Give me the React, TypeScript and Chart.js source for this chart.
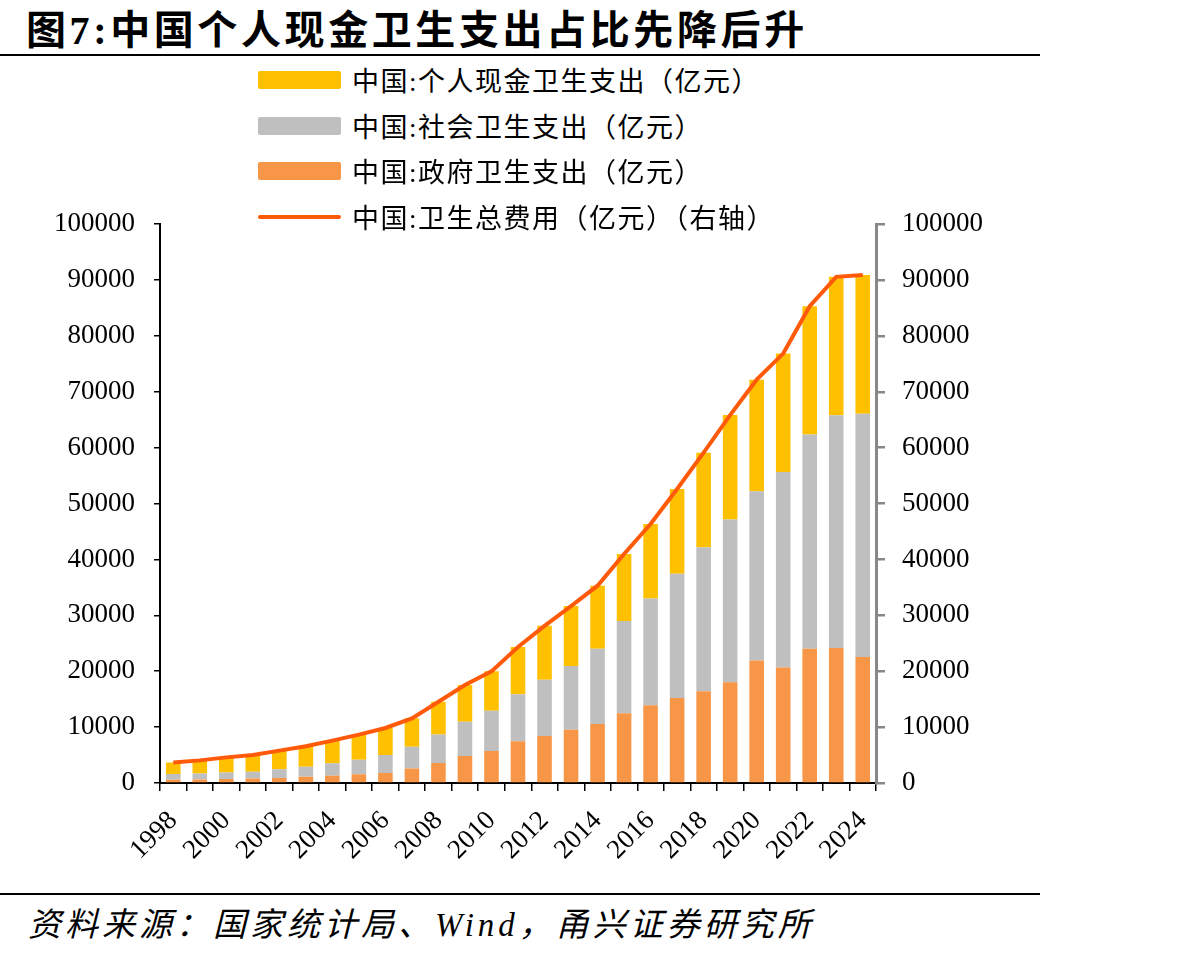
import React, { useEffect, useRef } from "react";
import { Chart, registerables } from "chart.js";

Chart.register(...registerables);

// 年份
const years = [
  "1998", "1999", "2000", "2001", "2002", "2003", "2004", "2005", "2006", "2007",
  "2008", "2009", "2010", "2011", "2012", "2013", "2014", "2015", "2016", "2017",
  "2018", "2019", "2020", "2021", "2022", "2023", "2024",
];

// 政府卫生支出（亿元）
const governmentSpending = [
  587.2, 641.0, 709.5, 800.6, 908.5, 1116.9, 1293.6, 1552.5, 1778.9, 2581.6,
  3593.9, 4816.3, 5732.5, 7464.2, 8432.0, 9545.8, 10579.2, 12475.3, 13910.3, 15205.9,
  16399.1, 18017.0, 21941.9, 20676.1, 24040.9, 24147.9, 22570.0,
];

// 社会卫生支出（亿元）
const socialSpending = [
  1006.0, 1064.6, 1171.9, 1211.4, 1539.4, 1788.5, 2225.4, 2586.4, 3210.9, 3893.7,
  5065.6, 6154.5, 7196.6, 8416.5, 10030.7, 11393.8, 13437.8, 16506.7, 19096.7, 22258.8,
  25810.8, 29150.6, 30273.7, 34963.3, 38345.7, 41676.8, 43530.0,
];

// 个人现金卫生支出（亿元）
const personalSpending = [
  2085.5, 2341.9, 2705.2, 3013.9, 3342.1, 3678.7, 4071.4, 4521.0, 4853.6, 5098.7,
  5875.9, 6571.2, 7051.3, 8465.3, 9656.3, 10729.4, 11295.4, 11992.7, 13337.9, 15133.6,
  16912.0, 18673.9, 19959.4, 21205.7, 22940.9, 24751.1, 24795.5,
];

// 卫生总费用（亿元，右轴）
const totalSpending = [
  3678.7, 4047.5, 4586.6, 5025.9, 5790.0, 6584.1, 7590.3, 8659.9, 9843.3, 11574.0,
  14535.4, 17541.9, 19980.4, 24345.9, 28119.0, 31669.0, 35312.4, 40974.6, 46344.9, 52598.3,
  59121.9, 65841.4, 72175.0, 76845.0, 85327.5, 90575.8, 90895.5,
];

const axisTicks = { min: 0, max: 100000, step: 10000 };

const COLOR_PERSONAL = "#FFC000";
const COLOR_SOCIAL = "#BFBFBF";
const COLOR_GOV = "#F79646";
const COLOR_TOTAL = "#FF5A0A";

const CJK = '"Noto Sans CJK SC", "Liberation Serif", serif';
const NUM = '"Liberation Serif", "Times New Roman", serif';

const legendItems = [
  { label: "中国:个人现金卫生支出（亿元）", color: COLOR_PERSONAL, kind: "box" },
  { label: "中国:社会卫生支出（亿元）", color: COLOR_SOCIAL, kind: "box" },
  { label: "中国:政府卫生支出（亿元）", color: COLOR_GOV, kind: "box" },
  { label: "中国:卫生总费用（亿元）（右轴）", color: COLOR_TOTAL, kind: "line" },
];

function splitColon(label: string) {
  const i = label.indexOf(":");
  return [label.slice(0, i), label.slice(i + 1)];
}

// plain integers, no thousands separators
const plainNumber = (v: any) => String(v);

export default function App() {
  const canvasRef = useRef<HTMLCanvasElement | null>(null);

  useEffect(() => {
    const canvas = canvasRef.current;
    if (!canvas) return;
    const tickFont = { family: NUM, size: 27 };

    const chart = new Chart(canvas, {
      type: "bar",
      data: {
        labels: years,
        datasets: [
          {
            type: "line",
            label: "中国:卫生总费用（亿元）（右轴）",
            data: totalSpending,
            yAxisID: "y1",
            borderColor: COLOR_TOTAL,
            borderWidth: 4,
            pointRadius: 0,
            tension: 0,
            order: 0,
          },
          {
            label: "中国:政府卫生支出（亿元）",
            data: governmentSpending,
            backgroundColor: COLOR_GOV,
            yAxisID: "y",
            stack: "s",
            order: 1,
          },
          {
            label: "中国:社会卫生支出（亿元）",
            data: socialSpending,
            backgroundColor: COLOR_SOCIAL,
            yAxisID: "y",
            stack: "s",
            order: 1,
          },
          {
            label: "中国:个人现金卫生支出（亿元）",
            data: personalSpending,
            backgroundColor: COLOR_PERSONAL,
            yAxisID: "y",
            stack: "s",
            order: 1,
          },
        ] as any,
      },
      options: {
        responsive: false,
        animation: false,
        devicePixelRatio: 1,
        layout: { padding: { top: 12, left: 0, right: 0, bottom: 0 } },
        datasets: {
          bar: { barPercentage: 0.55, categoryPercentage: 1 },
        },
        plugins: {
          legend: { display: false },
          tooltip: { enabled: false },
          title: { display: false },
        },
        scales: {
          x: {
            stacked: true,
            grid: {
              display: true,
              drawOnChartArea: false,
              drawTicks: true,
              tickLength: 8,
              color: "#000",
              lineWidth: 1.5,
              offset: true,
            },
            border: { display: true, color: "#000", width: 2 },
            ticks: {
              font: tickFont,
              color: "#000",
              autoSkip: false,
              minRotation: 45,
              maxRotation: 45,
              padding: 14,
              callback: (_v: any, i: number) => (i % 2 === 0 ? years[i] : ""),
            },
            afterFit: (scale: any) => {
              scale.height = 107;
            },
          },
          y: {
            stacked: true,
            position: "left",
            min: axisTicks.min,
            max: axisTicks.max,
            grid: {
              drawOnChartArea: false,
              drawTicks: true,
              tickLength: 6,
              color: "#000",
              lineWidth: 1.5,
            },
            border: { display: true, color: "#000", width: 2 },
            ticks: {
              stepSize: axisTicks.step,
              font: tickFont,
              color: "#000",
              padding: 19,
              callback: plainNumber,
            },
            afterFit: (scale: any) => {
              scale.width = 160;
            },
          },
          y1: {
            position: "right",
            min: axisTicks.min,
            max: axisTicks.max,
            grid: {
              drawOnChartArea: false,
              drawTicks: true,
              tickLength: 9,
              color: "#888",
              lineWidth: 2.5,
            },
            border: { display: true, color: "#888", width: 3 },
            ticks: {
              stepSize: axisTicks.step,
              font: tickFont,
              color: "#000",
              padding: 17,
              callback: plainNumber,
            },
            afterFit: (scale: any) => {
              scale.width = 164;
            },
          },
        },
      } as any,
    });

    return () => chart.destroy();
  }, []);

  return (
    <div
      style={{
        position: "absolute",
        left: 0,
        top: 0,
        width: 1193,
        height: 954,
        background: "#fff",
        overflow: "hidden",
      }}
    >
      <div
        style={{
          position: "absolute",
          left: 26,
          top: 2,
          fontFamily: CJK,
          fontWeight: 700,
          fontSize: 40,
          letterSpacing: 3.6,
          lineHeight: "50px",
          whiteSpace: "nowrap",
          color: "#000",
        }}
      >
        图<span style={{ fontFamily: NUM }}>7:</span>中国个人现金卫生支出占比先降后升
      </div>
      <div
        style={{
          position: "absolute",
          left: 0,
          top: 54,
          width: 1040,
          height: 2,
          background: "#000",
        }}
      />

      <canvas
        ref={canvasRef}
        width={1040}
        height={701}
        style={{ position: "absolute", left: 0, top: 189, width: 1040, height: 701 }}
      />

      {legendItems.map((item, i) => {
        const [head, tail] = splitColon(item.label);
        const cy = 80 + i * 45.6;
        return (
          <div key={item.label}>
            {item.kind === "box" ? (
              <div
                style={{
                  position: "absolute",
                  left: 258,
                  top: cy - 9,
                  width: 83,
                  height: 18,
                  borderRadius: 2,
                  background: item.color,
                }}
              />
            ) : (
              <div
                style={{
                  position: "absolute",
                  left: 258,
                  top: cy - 2,
                  width: 83,
                  height: 4,
                  borderRadius: 2,
                  background: item.color,
                }}
              />
            )}
            <div
              style={{
                position: "absolute",
                left: 352,
                top: cy - 20,
                height: 40,
                lineHeight: "40px",
                fontFamily: CJK,
                fontSize: 27,
                letterSpacing: 1.5,
                whiteSpace: "nowrap",
                color: "#000",
              }}
            >
              {head}
              <span style={{ fontFamily: NUM }}>:</span>
              {tail}
            </div>
          </div>
        );
      })}

      <div
        style={{
          position: "absolute",
          left: 0,
          top: 893,
          width: 1040,
          height: 2,
          background: "#000",
        }}
      />
      <div
        style={{
          position: "absolute",
          left: 28,
          top: 900,
          fontFamily: CJK,
          fontStyle: "italic",
          fontSize: 33,
          letterSpacing: 4,
          lineHeight: "44px",
          whiteSpace: "nowrap",
          color: "#000",
        }}
      >
        资料来源：国家统计局、<span style={{ fontFamily: NUM }}>Wind</span>，甬兴证券研究所
      </div>
    </div>
  );
}
